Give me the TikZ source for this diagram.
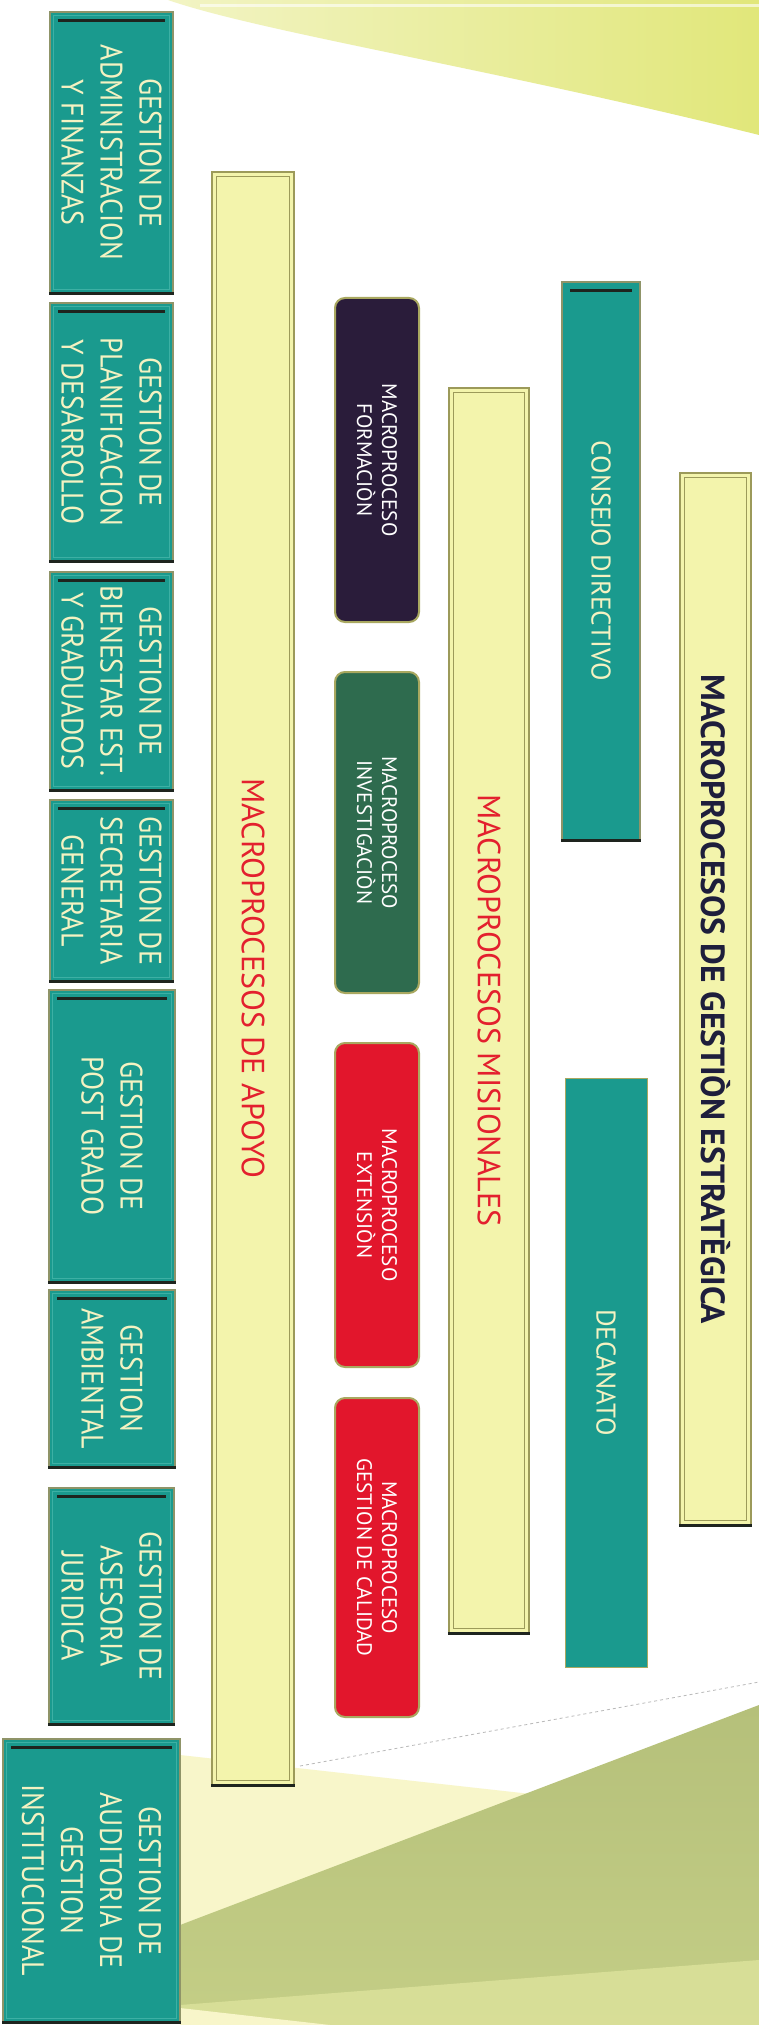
\documentclass[tikz,border=0pt]{standalone}
\usepackage{fontspec}
\setmainfont{PT Sans}
\newfontfamily\boxfont[FakeStretch=0.9]{PT Sans}
\definecolor{tealA}{HTML}{1A9A8E}
\definecolor{tealIn}{HTML}{3DB0A4}
\definecolor{gbord}{HTML}{8F9468}
\definecolor{cream}{HTML}{F4F2C2}
\definecolor{yfill}{HTML}{F3F4AC}
\definecolor{ybord}{HTML}{9C9A5A}
\definecolor{mbord}{HTML}{A9A860}
\definecolor{formc}{HTML}{2A1C3A}
\definecolor{invc}{HTML}{2E6B4E}
\definecolor{redc}{HTML}{E2162C}
\definecolor{redt}{HTML}{E3202E}
\definecolor{navyt}{HTML}{1E1E3C}
\definecolor{darkl}{HTML}{1E241E}
\definecolor{olive}{HTML}{B5C07A}
\definecolor{oliveb}{HTML}{C4CE86}
\definecolor{lowy}{HTML}{DDE39C}
\definecolor{palew}{HTML}{F8F6CA}
\definecolor{topy1}{HTML}{F2F4C4}
\definecolor{topy2}{HTML}{E1E77A}
\tikzset{
  gbox/.style={draw=gbord, fill=tealA, line width=1.2pt, inner sep=0pt},
  ybar/.style={draw=ybord, fill=yfill, line width=1.5pt, inner sep=0pt},
  mbox/.style={draw=mbord, line width=2pt, rounded corners=10pt, inner sep=0pt},
  innerl/.style={draw=tealIn, line width=0.8pt},
  yinner/.style={draw=ybord, line width=0.8pt},
  topdark/.style={draw=darkl, line width=2.5pt},
  botdark/.style={draw=darkl, line width=3pt},
  gtext/.style={rotate=-90, align=center, text=cream, font=\boxfont\fontsize{31}{39}\selectfont},
  ctext/.style={rotate=-90, align=center, text=cream, font=\fontsize{27}{30}\selectfont},
  mtext/.style={rotate=-90, align=center, text=white, font=\fontsize{21}{25}\selectfont},
  rtext/.style={rotate=-90, text=redt, font=\fontsize{32}{38}\selectfont},
  htext/.style={rotate=-90, text=navyt, font=\bfseries\fontsize{33.5}{38}\selectfont},
}
\newcommand\mkbox[6]{%
  \node[#1, minimum width={(#5-#3)*1pt}, minimum height={(#6-#4)*1pt}] (#2) at ({(#3+#5)/2},{(#4+#6)/2}) {};}
\newcommand\tbevel[1]{%
  \draw[innerl] ([shift={(4pt,-4pt)}]#1.north west) rectangle ([shift={(-4pt,4pt)}]#1.south east);
  \draw[topdark] ([shift={(9pt,-9pt)}]#1.north west) -- ([shift={(-9pt,-9pt)}]#1.north east);
  \draw[botdark] (#1.south west) -- (#1.south east);}
\newcommand\ybevel[1]{%
  \draw[yinner] ([shift={(5pt,-5pt)}]#1.north west) rectangle ([shift={(-5pt,5pt)}]#1.south east);
  \draw[botdark] (#1.south west) -- (#1.south east);}
\begin{document}
\begin{tikzpicture}[x=1pt,y=-1pt]
\useasboundingbox (0,0) rectangle (759,2025);
\fill[white] (0,0) rectangle (759,2025);
% top band
\shade[left color=topy1, right color=topy2] (168,0) .. controls (260,32) and (500,70) .. (759,135) -- (759,0) -- cycle;
\draw[white, opacity=0.6, line width=3pt] (200,6) -- (759,6);
% bottom background
\fill[palew] (180,1755) -- (540,1795) -- (180,1925) -- cycle;
\shade[top color=olive, bottom color=oliveb] (180,1925) -- (759,1705) -- (759,2025) -- (180,2025) -- cycle;
\fill[lowy, opacity=0.8] (180,2005) -- (759,1960) -- (759,2025) -- (180,2025) -- cycle;
\fill[palew] (180,2008) -- (330,2025) -- (180,2025) -- cycle;
\draw[gray!55, dashed, line width=0.8pt] (300,1766) -- (759,1682);
% left column
\mkbox{gbox}{admin}{50}{12}{173}{293}\tbevel{admin}
\node[gtext] (admin-t) at (admin) {GESTION DE\\ADMINISTRACION\\Y FINANZAS};
\mkbox{gbox}{planif}{50}{303}{173}{561}\tbevel{planif}
\node[gtext] (planif-t) at (planif) {GESTION DE\\PLANIFICACION\\Y DESARROLLO};
\mkbox{gbox}{bien}{50}{572}{173}{790}\tbevel{bien}
\node[gtext] (bien-t) at (bien) {GESTION DE\\BIENESTAR EST.\\Y GRADUADOS};
\mkbox{gbox}{secr}{50}{800}{173}{981}\tbevel{secr}
\node[gtext] (secr-t) at (secr) {GESTION DE\\SECRETARIA\\GENERAL};
\mkbox{gbox}{post}{49}{990}{175}{1282}\tbevel{post}
\node[gtext] (post-t) at (post) {GESTION DE\\POST GRADO};
\mkbox{gbox}{amb}{49}{1290}{175}{1467}\tbevel{amb}
\node[gtext] (amb-t) at (amb) {GESTION\\AMBIENTAL};
\mkbox{gbox}{jur}{49}{1488}{174}{1724}\tbevel{jur}
\node[gtext] (jur-t) at (jur) {GESTION DE\\ASESORIA\\JURIDICA};
\mkbox{gbox}{aud}{3}{1739}{180}{2022}\tbevel{aud}
\node[gtext] (aud-t) at (aud) {GESTION DE\\AUDITORIA DE\\GESTION\\INSTITUCIONAL};
% apoyo bar
\mkbox{ybar}{apoyo}{212}{172}{294}{1785}\ybevel{apoyo}
\node[rtext] (apoyo-t) at (apoyo) {MACROPROCESOS DE APOYO};
% mission boxes
\mkbox{mbox,fill=formc}{form}{335}{298}{419}{622}
\node[mtext] (form-t) at (form) {MACROPROCESO\\FORMACIÒN};
\mkbox{mbox,fill=invc}{inv}{335}{672}{419}{993}
\node[mtext] (inv-t) at (inv) {MACROPROCESO\\INVESTIGACIÒN};
\mkbox{mbox,fill=redc}{ext}{335}{1043}{419}{1367}
\node[mtext] (ext-t) at (ext) {MACROPROCESO\\EXTENSIÒN};
\mkbox{mbox,fill=redc}{cal}{335}{1398}{419}{1717}
\node[mtext] (cal-t) at (cal) {MACROPROCESO\\GESTION DE CALIDAD};
% misionales bar
\mkbox{ybar}{mis}{449}{388}{529}{1633}\ybevel{mis}
\node[rtext] (mis-t) at (mis) {MACROPROCESOS MISIONALES};
% consejo, decanato
\mkbox{gbox}{cons}{562}{282}{640}{840}
\draw[topdark] ([shift={(9pt,-9pt)}]cons.north west) -- ([shift={(-9pt,-9pt)}]cons.north east);
\draw[botdark] (cons.south west) -- (cons.south east);
\node[ctext] (cons-t) at (cons) {CONSEJO DIRECTIVO};
\mkbox{gbox,draw=mbord,line width=1pt}{dec}{565}{1078}{647}{1667}
\node[ctext] (dec-t) at (dec) {DECANATO};
% estrategica bar
\mkbox{ybar}{estr}{680}{473}{751}{1525}\ybevel{estr}
\node[htext] (estr-t) at (estr) {MACROPROCESOS DE GESTIÒN ESTRATÈGICA};
\end{tikzpicture}
\end{document}
